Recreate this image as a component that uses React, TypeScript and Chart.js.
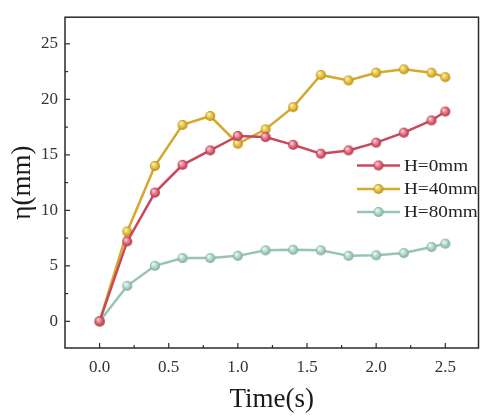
import { useEffect, useRef } from "react";
import { Chart, registerables } from "chart.js";

Chart.register(...registerables);

// Sampling times (s)
const times = [0, 0.2, 0.4, 0.6, 0.8, 1.0, 1.2, 1.4, 1.6, 1.8, 2.0, 2.2, 2.4, 2.5];
// η (mm) for each submergence depth
const h0 = [0, 7.2, 11.6, 14.1, 15.4, 16.7, 16.6, 15.9, 15.1, 15.4, 16.1, 17.0, 18.1, 18.9];
const h40 = [0, 8.1, 14.0, 17.7, 18.5, 16.0, 17.3, 19.3, 22.2, 21.7, 22.4, 22.7, 22.4, 22.0];
const h80 = [0, 3.2, 5.0, 5.7, 5.7, 5.9, 6.4, 6.45, 6.4, 5.9, 5.95, 6.15, 6.7, 7.0];
const seriesLabels = ["H=0mm", "H=40mm", "H=80mm"];

const xTicks = [0, 0.5, 1.0, 1.5, 2.0, 2.5];
const xMinor = [0.25, 0.75, 1.25, 1.75, 2.25];
const yTicks = [0, 5, 10, 15, 20, 25];
const yMinor = [2.5, 7.5, 12.5, 17.5, 22.5];

const SERIF = '"Liberation Serif", "Times New Roman", serif';

const palette = [
  { line: "#c9485c", light: "#fbd0d6", mid: "#e06a7c", dark: "#b23049" },
  { line: "#d5a92f", light: "#fcefb0", mid: "#e6bf3e", dark: "#b88c16" },
  { line: "#97c4b6", light: "#eef8f4", mid: "#acd4c8", dark: "#78a99a" },
];

function sphere(light: string, mid: string, dark: string, r = 5) {
  const s = r * 2 + 2;
  const c = document.createElement("canvas");
  c.width = s;
  c.height = s;
  const ctx = c.getContext("2d")!;
  const cx = s / 2;
  const cy = s / 2;
  const g = ctx.createRadialGradient(cx - r * 0.35, cy - r * 0.4, r * 0.1, cx, cy, r);
  g.addColorStop(0, light);
  g.addColorStop(0.55, mid);
  g.addColorStop(1, dark);
  ctx.fillStyle = g;
  ctx.beginPath();
  ctx.arc(cx, cy, r, 0, Math.PI * 2);
  ctx.fill();
  return c;
}

const frameAndLegend = {
  id: "frameAndLegend",
  afterDraw(chart: any) {
    const { ctx, chartArea: a, scales } = chart;
    const x = scales.x;
    const y = scales.y;
    ctx.save();
    ctx.strokeStyle = "#2b2b2b";
    ctx.lineWidth = 1.5;
    ctx.strokeRect(a.left, a.top, a.right - a.left, a.bottom - a.top);

    ctx.lineWidth = 1.2;
    const seg = (x1: number, y1: number, x2: number, y2: number) => {
      ctx.beginPath();
      ctx.moveTo(x1, y1);
      ctx.lineTo(x2, y2);
      ctx.stroke();
    };
    xTicks.forEach((v) => {
      const p = x.getPixelForValue(v);
      seg(p, a.bottom, p, a.bottom - 5);
    });
    xMinor.forEach((v) => {
      const p = x.getPixelForValue(v);
      seg(p, a.bottom, p, a.bottom - 3);
    });
    yTicks.forEach((v) => {
      const p = y.getPixelForValue(v);
      seg(a.left, p, a.left + 5, p);
    });
    yMinor.forEach((v) => {
      const p = y.getPixelForValue(v);
      seg(a.left, p, a.left + 3, p);
    });

    // legend: line + sphere + label
    const lx0 = 357;
    const lx1 = 400;
    const rows = [165.5, 189, 212];
    chart.data.datasets.forEach((ds: any, i: number) => {
      const ry = rows[i];
      ctx.strokeStyle = ds.borderColor;
      ctx.lineWidth = 2.5;
      seg(lx0, ry, lx1, ry);
      const img = ds.pointStyle as HTMLCanvasElement;
      ctx.drawImage(img, (lx0 + lx1) / 2 - img.width / 2, ry - img.height / 2);
      ctx.save();
      ctx.translate(404, ry + 1);
      ctx.scale(1.2, 1);
      ctx.fillStyle = "#222";
      ctx.font = `16px ${SERIF}`;
      ctx.textBaseline = "middle";
      ctx.textAlign = "left";
      ctx.fillText(ds.label, 0, 0);
      ctx.restore();
    });
    ctx.restore();
  },
};

export default function App() {
  const ref = useRef<HTMLCanvasElement>(null);

  useEffect(() => {
    document.body.style.margin = "0";
    const series = [h0, h40, h80];
    const datasets = series.map((vals, i) => {
      const p = palette[i];
      return {
        label: seriesLabels[i],
        data: times.map((t, j) => ({ x: t, y: vals[j] })),
        borderColor: p.line,
        backgroundColor: p.line,
        borderWidth: 2.5,
        pointStyle: sphere(p.light, p.mid, p.dark, 5),
        pointRadius: 5,
        tension: 0,
      };
    });

    const chart = new Chart(ref.current!, {
      type: "line",
      data: { datasets },
      options: {
        animation: false,
        responsive: false,
        layout: { padding: { top: 10, right: 3, left: 0, bottom: 0 } },
        plugins: { legend: { display: false }, tooltip: { enabled: false } },
        scales: {
          x: {
            type: "linear",
            min: -0.25,
            max: 2.74,
            grid: { display: false, drawTicks: false },
            border: { display: false },
            afterBuildTicks: (s: any) => {
              s.ticks = xTicks.map((v) => ({ value: v }));
            },
            afterFit: (s: any) => {
              s.height = 70;
            },
            ticks: {
              color: "#333",
              padding: 9,
              maxRotation: 0,
              autoSkip: false,
              font: { family: SERIF, size: 17 },
              callback: (v: any) => Number(v).toFixed(1),
            },
            title: {
              display: true,
              text: "Time(s)",
              color: "#1a1a1a",
              font: { family: SERIF, size: 27 },
              padding: { top: 0, bottom: 2 },
            },
          },
          y: {
            type: "linear",
            min: -2.4,
            max: 27.4,
            grid: { display: false, drawTicks: false },
            border: { display: false },
            afterBuildTicks: (s: any) => {
              s.ticks = yTicks.map((v) => ({ value: v }));
            },
            afterFit: (s: any) => {
              s.width = 65;
            },
            ticks: {
              color: "#333",
              padding: 7,
              autoSkip: false,
              font: { family: SERIF, size: 17 },
              callback: (v: any) => String(v),
            },
            title: {
              display: true,
              text: "η(mm)",
              color: "#1a1a1a",
              font: { family: SERIF, size: 27 },
              padding: { top: 7, bottom: 0 },
            },
          },
        },
      },
      plugins: [frameAndLegend],
    });
    return () => chart.destroy();
  }, []);

  return (
    <div style={{ width: 486, height: 418, background: "#fff" }}>
      <canvas ref={ref} width={486} height={418} />
    </div>
  );
}
